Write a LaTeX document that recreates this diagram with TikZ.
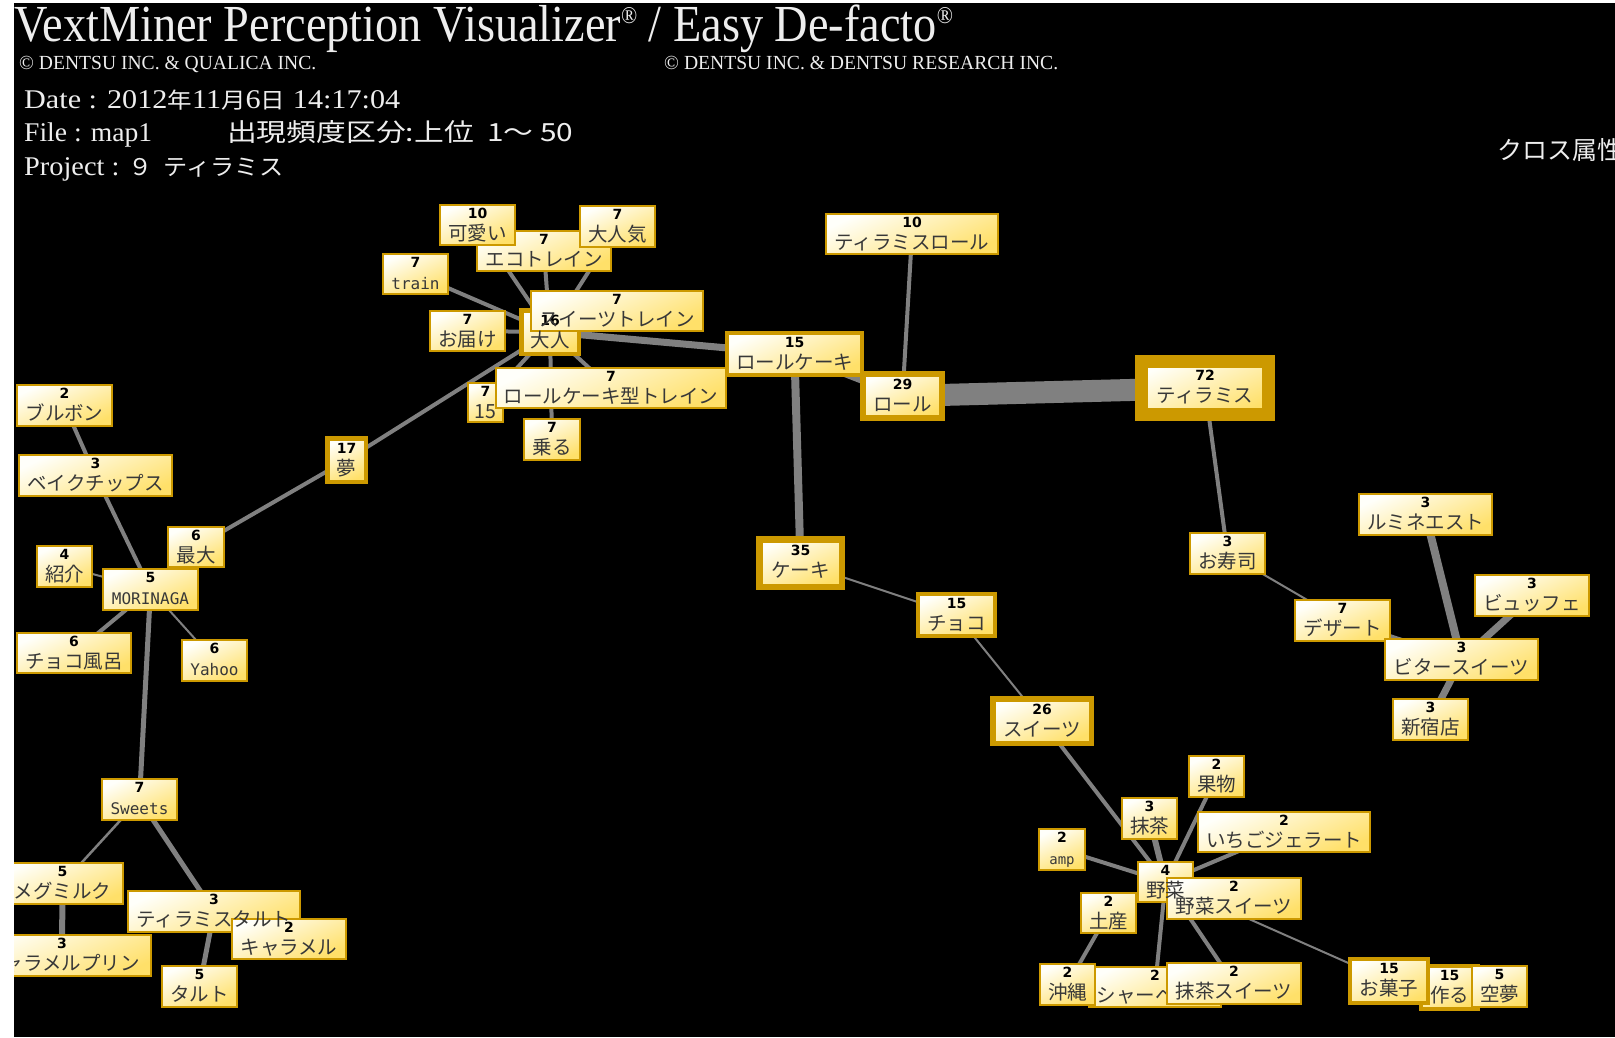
\documentclass[tikz,border=0pt]{standalone}
\usepackage{fontspec}
\setmainfont{Liberation Serif}
\newfontfamily\jp{Noto Sans CJK JP}
\newfontfamily\numf{DejaVu Sans}
\newfontfamily\monof{DejaVu Sans Mono}
\pgfdeclarelayer{back}
\pgfdeclarelayer{edges}
\pgfdeclarelayer{txt}
\pgfsetlayers{back,edges,main,txt}
\definecolor{gold}{RGB}{204,153,0}
\definecolor{boxy}{RGB}{255,224,105}
\definecolor{boxw}{RGB}{255,255,250}
\definecolor{edgeg}{RGB}{128,128,128}
\definecolor{hdr}{RGB}{238,238,238}
\tikzset{
 wordbox/.style={draw=gold, rectangle, inner sep=0pt, shading=axis, top color=boxw, bottom color=boxy, shading angle=25},
 numtext/.style={anchor=base, inner sep=0pt, font=\numf\bfseries\fontsize{14}{14}\selectfont, text=black},
 labtext/.style={anchor=base, inner sep=0pt, font=\fontsize{19.5}{20}\selectfont, text=black!78},
 edge/.style={draw=edgeg, line cap=butt},
 hdrtext/.style={anchor=base west, inner sep=0pt, text=hdr},
}
\newcommand\mo{\monof\fontsize{16}{16}\selectfont}
% box with its texts on the top layer
\newcommand\wnode[9]{%
 \pgfmathsetmacro\cx{(#2+#4)/2}%
 \pgfmathsetmacro\cy{(#3+#5)/2}%
 \pgfmathsetmacro\ww{#4-#2-#6}%
 \pgfmathsetmacro\hh{#5-#3-#6}%
 \pgfmathsetmacro\ny{#3+#6+12.5}%
 \pgfmathsetmacro\ly{#3+#6+34.5}%
 \node[wordbox, line width=#6pt, minimum width=\ww pt, minimum height=\hh pt] (#1) at (\cx,\cy) {};
 \begin{pgfonlayer}{txt}
 \node[numtext] (#1n) at (\cx,\ny) {#7};
 \node[labtext] (#1l) at (\cx,\ly) {#9#8};
 \end{pgfonlayer}
}
% box with its texts in drawing order (can be covered by later boxes)
\newcommand\wnodeb[9]{%
 \pgfmathsetmacro\cx{(#2+#4)/2}%
 \pgfmathsetmacro\cy{(#3+#5)/2}%
 \pgfmathsetmacro\ww{#4-#2-#6}%
 \pgfmathsetmacro\hh{#5-#3-#6}%
 \pgfmathsetmacro\ny{#3+#6+12.5}%
 \pgfmathsetmacro\ly{#3+#6+34.5}%
 \node[wordbox, line width=#6pt, minimum width=\ww pt, minimum height=\hh pt] (#1) at (\cx,\cy) {};
 \node[numtext] (#1n) at (\cx,\ny) {#7};
 \node[labtext] (#1l) at (\cx,\ly) {#9#8};
}
\begin{document}
\begin{tikzpicture}[x=1pt,y=-1pt]
\useasboundingbox (0,0) rectangle (1615,1037);
\begin{pgfonlayer}{back}
\fill[white] (0,0) rectangle (1615,1037);
\fill[black] (14,3) rectangle (1615,1037);
\end{pgfonlayer}

% header
\node[hdrtext] (title) at (14,41) {\resizebox{939pt}{\height}{\fontsize{52}{52}\selectfont VextMiner Perception Visualizer\raisebox{18pt}{\fontsize{24}{24}\selectfont ®} / Easy De-facto\raisebox{18pt}{\fontsize{24}{24}\selectfont ®}}};
\node[hdrtext] (copy1) at (19,69) {\resizebox{297pt}{\height}{\fontsize{20}{20}\selectfont © DENTSU INC. \& QUALICA INC.}};
\node[hdrtext] (copy2) at (664,69) {\resizebox{394pt}{\height}{\fontsize{20}{20}\selectfont © DENTSU INC. \& DENTSU RESEARCH INC.}};
\node[hdrtext] (date) at (24,108) {\resizebox{376pt}{\height}{\fontsize{27}{27}\selectfont Date : 2012{\jp\fontsize{22}{22}\selectfont 年}11{\jp\fontsize{22}{22}\selectfont 月}6{\jp\fontsize{22}{22}\selectfont 日} 14:17:04}};
\node[hdrtext] (file) at (24,141) {\resizebox{128pt}{\height}{\fontsize{27}{27}\selectfont File : map1}};
\node[hdrtext] (freq) at (227,141) {\resizebox{346pt}{\height}{\jp\fontsize{25}{25}\selectfont 出現頻度区分:上位\ \ 1～ 50}};
\node[hdrtext] (proj) at (24,175) {\resizebox{259pt}{\height}{\fontsize{27}{27}\selectfont Project : {\jp\fontsize{23}{23}\selectfont ９\ \ ティラミス}}};
\node[hdrtext] (cross) at (1497,159) {\jp\fontsize{25}{25}\selectfont クロス属性};

% nodes
\wnode{eco}{476}{230}{612}{272}{2}{7}{エコトレイン}{\jp}
\wnode{kawaii}{439}{204}{516}{246}{2}{10}{可愛い}{\jp}
\wnode{otonaki}{579}{205}{656}{248}{2}{7}{大人気}{\jp}
\wnode{train}{382}{253}{449}{295}{2}{7}{train}{\mo}
\wnode{otodoke}{429}{310}{506}{352}{2}{7}{お届け}{\jp}
\wnode{otona}{519}{308}{581}{356}{4.5}{16}{大人}{\jp}
\wnode{swtrain}{530}{290}{704}{332}{2}{7}{スイーツトレイン}{\jp}
\wnode{nfifteen}{467}{382}{504}{423}{2}{7}{15}{\jp}
\wnode{rctrain}{495}{367}{727}{409}{2}{7}{ロールケーキ型トレイン}{\jp}
\wnode{noru}{523}{418}{581}{461}{2}{7}{乗る}{\jp}
\wnode{trroll}{825}{213}{999}{255}{2}{10}{ティラミスロール}{\jp}
\wnode{rollcake}{725}{331}{864}{377}{4}{15}{ロールケーキ}{\jp}
\wnode{roll}{860}{371}{945}{421}{6}{29}{ロール}{\jp}
\wnode{tira}{1135}{355}{1275}{421}{13}{72}{ティラミス}{\jp}
\wnode{yume}{325}{436}{368}{484}{4.5}{17}{夢}{\jp}
\wnode{bourbon}{16}{384}{113}{427}{2}{2}{ブルボン}{\jp}
\wnode{bake}{18}{454}{173}{497}{2}{3}{ベイクチップス}{\jp}
\wnode{shokai}{36}{545}{93}{588}{2}{4}{紹介}{\jp}
\wnode{saidai}{167}{526}{225}{568}{2}{6}{最大}{\jp}
\wnode{morinaga}{102}{568}{199}{611}{2}{5}{MORINAGA}{\mo}
\wnode{chocoburo}{16}{632}{132}{674}{2}{6}{チョコ風呂}{\jp}
\wnode{yahoo}{181}{639}{248}{682}{2}{6}{Yahoo}{\mo}
\wnode{cake}{756}{536}{845}{590}{6.5}{35}{ケーキ}{\jp}
\wnode{choco}{916}{592}{997}{638}{4}{15}{チョコ}{\jp}
\wnode{sweetsj}{990}{696}{1094}{746}{5.5}{26}{スイーツ}{\jp}
\wnode{osushi}{1189}{532}{1266}{575}{2}{3}{お寿司}{\jp}
\wnode{dessert}{1294}{599}{1391}{642}{2}{7}{デザート}{\jp}
\wnode{lumine}{1358}{493}{1493}{536}{2}{3}{ルミネエスト}{\jp}
\wnode{buffet}{1474}{574}{1590}{617}{2}{3}{ビュッフェ}{\jp}
\wnode{bitter}{1384}{638}{1539}{681}{2}{3}{ビタースイーツ}{\jp}
\wnode{shinjuku}{1392}{698}{1469}{741}{2}{3}{新宿店}{\jp}
\wnode{sweets}{101}{778}{178}{821}{2}{7}{Sweets}{\mo}
\wnode{meg}{1}{862}{124}{905}{2}{5}{メグミルク}{\jp}
\wnode{tartt}{127}{890}{301}{933}{2}{3}{ティラミスタルト}{\jp}
\wnode{caramel}{231}{918}{347}{960}{2}{2}{キャラメル}{\jp}
\wnode{pudding}{-28}{934}{152}{977}{2}{3}{キャラメルプリン}{\jp}
\wnode{tart}{161}{965}{238}{1008}{2}{5}{タルト}{\jp}
\wnode{kudamono}{1188}{755}{1245}{798}{2}{2}{果物}{\jp}
\wnode{matcha}{1121}{797}{1178}{840}{2}{3}{抹茶}{\jp}
\wnode{ichigo}{1197}{811}{1371}{853}{2}{2}{いちごジェラート}{\jp}
\wnode{amp}{1038}{828}{1086}{871}{2}{2}{amp}{\monof\fontsize{14}{14}\selectfont}
\wnode{miyage}{1080}{892}{1137}{934}{2}{2}{土産}{\jp}
\wnode{yasai}{1137}{861}{1194}{903}{2}{4}{野菜}{\jp}
\wnode{yasaisw}{1166}{877}{1302}{920}{2}{2}{野菜スイーツ}{\jp}
\wnodeb{sherbet}{1088}{966}{1222}{1008}{2}{2}{シャーベット}{\jp}
\wnode{okinawa}{1039}{963}{1096}{1006}{2}{2}{沖縄}{\jp}
\wnode{matchasw}{1166}{962}{1302}{1005}{2}{2}{抹茶スイーツ}{\jp}
\wnodeb{tsukuru}{1419}{964}{1480}{1011}{4}{15}{作る}{\jp}
\wnode{okashi}{1348}{957}{1430}{1005}{4}{15}{お菓子}{\jp}
\wnode{kumu}{1471}{965}{1528}{1008}{2}{5}{空夢}{\jp}

% edges
\begin{pgfonlayer}{edges}
\draw[edge, line width=22pt] (tira.center) -- (roll.center);
\draw[edge, line width=7pt] (roll.center) -- (rollcake.center);
\draw[edge, line width=7pt] (rollcake.center) -- (otona.center);
\draw[edge, line width=8pt] (rollcake.center) -- (cake.center);
\draw[edge, line width=4pt] (roll.center) -- (trroll.center);
\draw[edge, line width=4pt] (tira.center) -- (osushi.center);
\draw[edge, line width=2pt] (osushi.center) -- (dessert.center);
\draw[edge, line width=4pt] (dessert.center) -- (bitter.center);
\draw[edge, line width=8pt] (bitter.center) -- (lumine.center);
\draw[edge, line width=7pt] (bitter.center) -- (buffet.center);
\draw[edge, line width=7pt] (bitter.center) -- (shinjuku.center);
\draw[edge, line width=2pt] (cake.center) -- (choco.center);
\draw[edge, line width=2pt] (choco.center) -- (sweetsj.center);
\draw[edge, line width=4pt] (sweetsj.center) -- (yasai.center);
\draw[edge, line width=4pt] (yasai.center) -- (kudamono.center);
\draw[edge, line width=6pt] (yasai.center) -- (matcha.center);
\draw[edge, line width=4pt] (yasai.center) -- (ichigo.center);
\draw[edge, line width=4pt] (yasai.center) -- (amp.center);
\draw[edge, line width=4pt] (yasai.center) -- (miyage.center);
\draw[edge, line width=4pt] (yasai.center) -- (sherbet.center);
\draw[edge, line width=4pt] (yasai.center) -- (matchasw.center);
\draw[edge, line width=2pt] (yasai.center) -- (okashi.center);
\draw[edge, line width=4pt] (miyage.center) -- (okinawa.center);
\draw[edge, line width=4pt] (otona.center) -- (yume.center);
\draw[edge, line width=4pt] (yume.center) -- (saidai.center);
\draw[edge, line width=4pt] (otona.center) -- (train.center);
\draw[edge, line width=4pt] (otona.center) -- (otodoke.center);
\draw[edge, line width=4pt] (otona.center) -- (kawaii.center);
\draw[edge, line width=4pt] (otona.center) -- (eco.center);
\draw[edge, line width=4pt] (otona.center) -- (otonaki.center);
\draw[edge, line width=4pt] (otona.center) -- (nfifteen.center);
\draw[edge, line width=4pt] (otona.center) -- (noru.center);
\draw[edge, line width=4pt] (otona.center) -- (rctrain.center);
\draw[edge, line width=4pt] (bourbon.center) -- (bake.center);
\draw[edge, line width=4pt] (bake.center) -- (morinaga.center);
\draw[edge, line width=2pt] (shokai.center) -- (morinaga.center);
\draw[edge, line width=4pt] (morinaga.center) -- (chocoburo.center);
\draw[edge, line width=2pt] (morinaga.center) -- (yahoo.center);
\draw[edge, line width=5pt] (morinaga.center) -- (sweets.center);
\draw[edge, line width=2.5pt] (sweets.center) -- (meg.center);
\draw[edge, line width=5pt] (sweets.center) -- (tartt.center);
\draw[edge, line width=6pt] (meg.center) -- (pudding.center);
\draw[edge, line width=5pt] (tartt.center) -- (tart.center);
\end{pgfonlayer}

% margins of the screenshot
\begin{pgfonlayer}{txt}
\fill[white] (0,0) rectangle (14,1037);
\fill[white] (0,0) rectangle (1615,3);
\end{pgfonlayer}
\end{tikzpicture}
\end{document}
